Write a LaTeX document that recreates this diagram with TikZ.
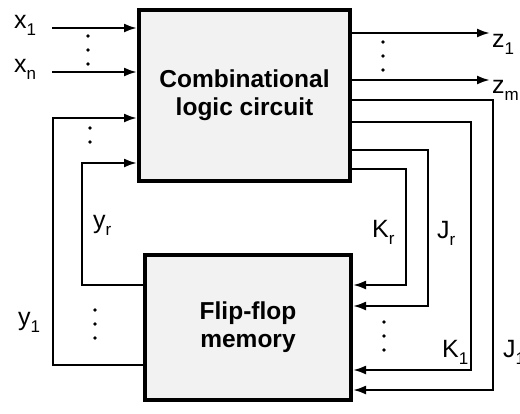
\documentclass[tikz,border=0pt]{standalone}
\usepackage{fontspec}
\setmainfont{Liberation Sans}
\usetikzlibrary{arrows.meta,positioning}
% subscript as printed in the figure
\newcommand{\sbs}[1]{\raisebox{-0.55ex}{\fontsize{17}{17}\selectfont #1}}
% column of dots: x, first y, count
\newcommand{\dotcol}[3]{\foreach \k in {1,...,#3} \fill (#1,{#2+14*(\k-1)}) circle (1.8);}
\tikzset{
  blk/.style={draw,line width=4pt,fill=black!5,align=center,
    font=\bfseries\fontsize{24.5}{28}\selectfont},
  sig/.style={line width=2.2pt,-{Latex[length=13pt,width=9pt]}},
  lbl/.style={font=\fontsize{25}{27}\selectfont,inner sep=0pt}
}
\begin{document}
\begin{tikzpicture}[x=1pt,y=-1pt]
  \useasboundingbox (0,0) rectangle (520,413);
  % the two blocks
  \node[blk,minimum width=211pt,minimum height=171pt] (comb) at (244.5,95.5) {Combinational\\logic circuit};
  \node[blk,minimum width=206pt,minimum height=145pt] (ff) at (248,327.5) {Flip-flop\\memory};
  % inputs
  \node[lbl,anchor=base west] (x1) at (14,28) {x\sbs{1}};
  \node[lbl,anchor=base west] (xn) at (14,72) {x\sbs{n}};
  \coordinate (x1s) at (52,28);
  \coordinate (xns) at (52,72);
  \draw[sig] (x1s) -- (x1s -| comb.west);
  \draw[sig] (xns) -- (xns -| comb.west);
  \dotcol{88}{36}{3}
  % outputs
  \coordinate (z1e) at (490,33);
  \coordinate (zme) at (490,80);
  \draw[sig] (z1e -| comb.east) -- (z1e);
  \draw[sig] (zme -| comb.east) -- (zme);
  \node[lbl,anchor=base west] (z1) at (492,47) {z\sbs{1}};
  \node[lbl,anchor=base west] (zm) at (492,93) {z\sbs{m}};
  \dotcol{383}{42}{3}
  % state feedback, left side
  \coordinate (y1t) at (53,118);
  \coordinate (y1b) at (53,365);
  \coordinate (yrt) at (82,163);
  \coordinate (yrb) at (82,285);
  \draw[sig] (y1b -| ff.west) -- (y1b) -- (y1t) -- (y1t -| comb.west);
  \draw[sig] (yrb -| ff.west) -- (yrb) -- (yrt) -- (yrt -| comb.west);
  \node[lbl,anchor=base west] (yr) at (93,228) {y\sbs{r}};
  \node[lbl,anchor=base west] (y1) at (18,325) {y\sbs{1}};
  \dotcol{90}{128}{2}
  \dotcol{95}{310}{3}
  % excitation lines, right side
  \coordinate (j1t) at (493,100);
  \coordinate (j1b) at (493,390);
  \coordinate (k1t) at (471,122);
  \coordinate (k1b) at (471,370);
  \coordinate (jrt) at (428,150);
  \coordinate (jrb) at (428,306);
  \coordinate (krt) at (406,169);
  \coordinate (krb) at (406,285);
  \draw[sig] (j1t -| comb.east) -- (j1t) -- (j1b) -- (j1b -| ff.east);
  \draw[sig] (k1t -| comb.east) -- (k1t) -- (k1b) -- (k1b -| ff.east);
  \draw[sig] (jrt -| comb.east) -- (jrt) -- (jrb) -- (jrb -| ff.east);
  \draw[sig] (krt -| comb.east) -- (krt) -- (krb) -- (krb -| ff.east);
  \node[lbl,anchor=base west] (kr) at (372,237) {K\sbs{r}};
  \node[lbl,anchor=base west] (jr) at (437,238) {J\sbs{r}};
  \node[lbl,anchor=base west] (k1) at (442,357) {K\sbs{1}};
  \node[lbl,anchor=base west] (j1) at (503,357) {J\sbs{1}};
  \dotcol{384}{322}{3}
\end{tikzpicture}
\end{document}
